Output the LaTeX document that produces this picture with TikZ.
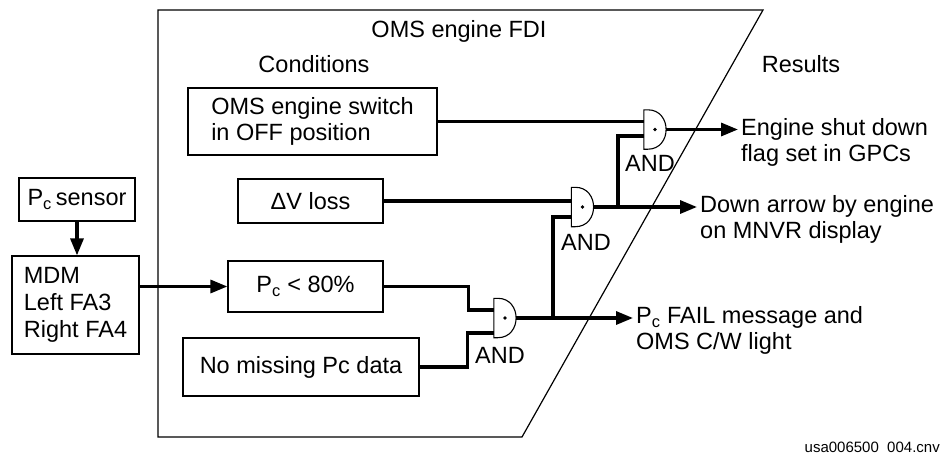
\documentclass[tikz,border=0pt]{standalone}
\usepackage{fontspec}
\setmainfont{Liberation Sans}
\usetikzlibrary{arrows.meta,calc}
\newcommand\diagfont{\fontsize{23.5}{25.5}\selectfont}
\begin{document}
\begin{tikzpicture}[x=1pt,y=-1pt,
  box/.style={draw,line width=1.2pt,inner sep=0pt,align=left,font=\diagfont},
  lbl/.style={inner sep=0pt,font=\diagfont},
  outtext/.style={inner ysep=0pt,inner xsep=3pt,align=left,anchor=west,font=\diagfont},
  gate/.style={rectangle,minimum width=22pt,minimum height=39pt,inner sep=0pt},
  gateline/.style={line width=1.1pt},
  wire/.style={line width=3.2pt},
  arr/.style={wire,-{Triangle[length=17pt,width=13pt]}}
]
\useasboundingbox (0,0) rectangle (943,458);
\fill[white] (0,0) rectangle (943,458);

% outer container
\draw[line width=1.2pt] (158,10) -- (763,10) -- (522,437) -- (158,437) -- cycle;
\node[lbl] (title) at (459,31) {OMS engine FDI};
\node[lbl] (cond) at (314,64) {Conditions};
\node[lbl] (res) at (801,64) {Results};

% condition boxes
\node[box,minimum width=249pt,minimum height=67pt] (sw) at (312.5,121.5) {OMS engine switch\\in OFF position};
\node[box,minimum width=145pt,minimum height=44pt] (dv) at (310.5,201) {ΔV loss};
\node[box,minimum width=155pt,minimum height=51pt] (pc) at (305.5,286.5) {P\textsubscript{c} < 80\%};
\node[box,minimum width=236pt,minimum height=58pt] (nm) at (301,367) {No missing Pc data};

% sensor side
\node[box,minimum width=116pt,minimum height=43pt] (sen) at (77,199.5) {P\textsubscript{c}\,sensor};
\node[box,minimum width=127pt,minimum height=98pt,font=\fontsize{23.5}{27}\selectfont] (mdm) at (75.5,305) {MDM\\Left FA3\\Right FA4};
\draw[arr] (sen.south) -- (sen.south |- mdm.north);
\draw[arr] (mdm.east |- pc.west) -- (pc.west);

% gates
\node[gate] (g1) at (655,129.5) {};
\node[gate] (g2) at (582.5,207) {};
\node[gate] (g3) at (505,318) {};
\foreach \g in {g1,g2,g3}{
  \draw[gateline] (\g.north west) -- (\g.south west) -- ($(\g.south west)+(4,0)$)
    .. controls ($(\g.south east)+(6,0)$) and ($(\g.north east)+(6,0)$) .. ($(\g.north west)+(4,0)$) -- cycle;
  \fill (\g.center) circle (1.8pt);
}
\node[lbl] (and1) at (650,163) {AND};
\node[lbl] (and2) at (586,242) {AND};
\node[lbl] (and3) at (500,355) {AND};

\coordinate (g1b) at ($(g1.west)+(0,6.5)$);
\coordinate (g2b) at ($(g2.west)+(0,10)$);
\coordinate (g3a) at ($(g3.west)+(0,-8)$);
\coordinate (g3b) at ($(g3.west)+(0,15)$);
\coordinate (j3) at (553,318);
\coordinate (j2) at (618,207);

% results
\node[outtext] (eng) at (738,142.5) {Engine shut down\\flag set in GPCs};
\node[outtext] (down) at (697,219.5) {Down arrow by engine\\on MNVR display};
\node[outtext] (fail) at (633,330.5) {P\textsubscript{c} FAIL message and\\OMS C/W light};

% wires
\draw[wire] (sw.east) -- (sw.east -| g1.west);
\draw[wire] (dv.east) -- (dv.east -| g2.west);
\draw[wire] (pc.east) -- ++(85,0) |- (g3a);
\draw[wire] (nm.east) -- ++(48,0) |- (g3b);
\draw[arr] (g3.east) -- (g3.east -| fail.west);
\draw[wire] (j3) |- (g2b);
\draw[arr] (g2.east) -- (g2.east -| down.west);
\draw[wire] (j2) |- (g1b);
\draw[arr] (g1.east) -- (g1.east -| eng.west);

\node[anchor=east,inner sep=0pt,font=\fontsize{15}{18}\selectfont] (ft) at (940,447) {usa006500\ \ 004.cnv};
\end{tikzpicture}
\end{document}
